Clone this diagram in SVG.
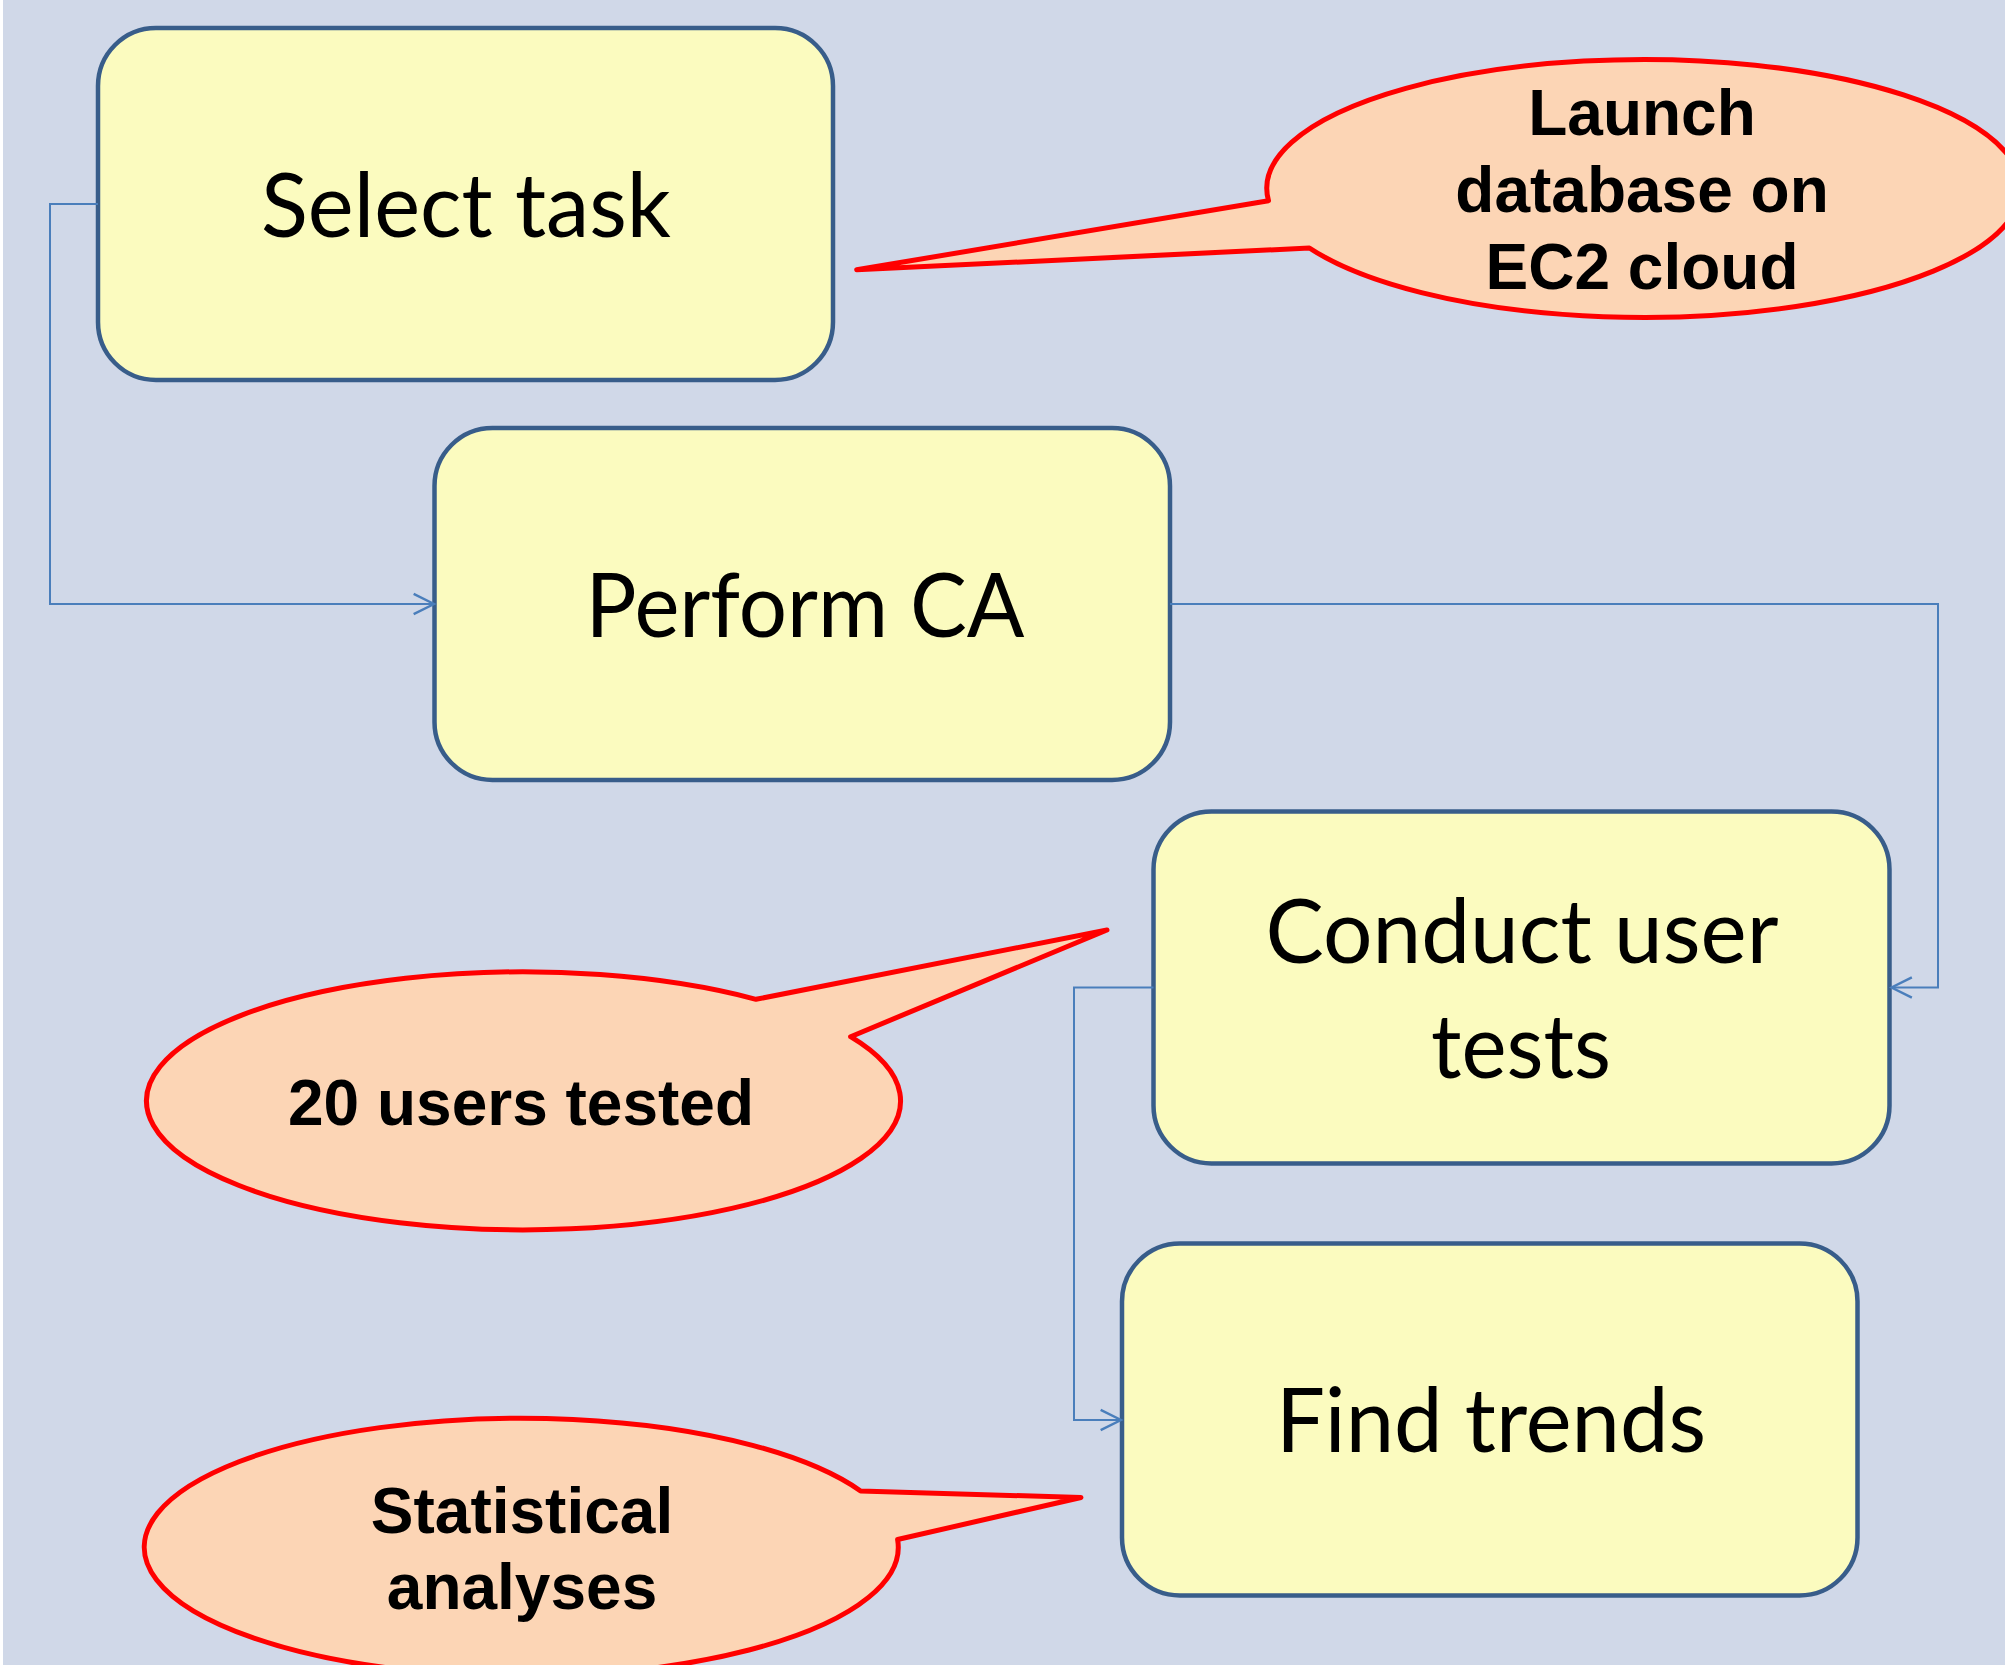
<svg xmlns="http://www.w3.org/2000/svg" width="2005" height="1665" viewBox="0 0 2005 1665">
  <style>
    .node rect { fill: #FBFBBF; stroke: #385D8A; stroke-width: 4.5; }
    .node text { font-family: Lato, "Open Sans", sans-serif; font-size: 89px; fill: #000; text-anchor: middle; }
    .callout path { fill: #FCD5B5; stroke: #FF0000; stroke-width: 5; stroke-linejoin: round; }
    .callout text { font-family: "Liberation Sans", Arial, sans-serif; font-weight: bold; font-size: 64px; fill: #000; text-anchor: middle; }
    .conn path { fill: none; stroke: #4A7EBB; stroke-width: 2; }
  </style>
  <defs>
    <marker id="open-arrow" markerUnits="userSpaceOnUse" markerWidth="30" markerHeight="30" viewBox="-24 -14 28 28" refX="0" refY="0" orient="auto">
      <path d="M -19,-9.5 L 0,0 L -19,9.5" fill="none" stroke="#4A7EBB" stroke-width="2.2"/>
    </marker>
  </defs>

  <!-- page -->
  <rect x="0" y="0" width="2005" height="1665" fill="#FFFFFF"/>
  <rect x="3" y="0" width="2002" height="1665" fill="#D0D8E8"/>

  <!-- process steps -->
  <g id="select-task" class="node">
    <rect x="98" y="28" width="735" height="352" rx="58" ry="58"/>
    <text x="466" y="237" textLength="410" lengthAdjust="spacingAndGlyphs">Select task</text>
  </g>
  <g id="perform-ca" class="node">
    <rect x="434.5" y="428" width="735.5" height="352" rx="58" ry="58"/>
    <text x="805" y="637" textLength="439" lengthAdjust="spacingAndGlyphs">Perform CA</text>
  </g>
  <g id="conduct-user-tests" class="node">
    <rect x="1153.5" y="811.5" width="736" height="352" rx="58" ry="58"/>
    <text x="1522" y="963" textLength="513" lengthAdjust="spacingAndGlyphs">Conduct user</text>
    <text x="1521" y="1078" textLength="180" lengthAdjust="spacingAndGlyphs">tests</text>
  </g>
  <g id="find-trends" class="node">
    <rect x="1122" y="1243.5" width="735.5" height="352" rx="58" ry="58"/>
    <text x="1491" y="1452" textLength="430" lengthAdjust="spacingAndGlyphs">Find trends</text>
  </g>

  <!-- elbow connectors -->
  <g id="connectors" class="conn">
    <path d="M 98,204 H 50 V 604 H 434" marker-end="url(#open-arrow)"/>
    <path d="M 1170,604 H 1938 V 987.5 H 1891.5" marker-end="url(#open-arrow)"/>
    <path d="M 1153.5,987.5 H 1074 V 1420 H 1121" marker-end="url(#open-arrow)"/>
  </g>

  <!-- speech-bubble notes -->
  <g id="note-launch-db" class="callout">
    <path d="M 1268.5,200.7 L 856.7,269.8 L 1309.4,248 A 377 129 0 1 0 1268.5,200.7 Z"/>
    <text x="1642" y="135">Launch</text>
    <text x="1642" y="212">database on</text>
    <text x="1642" y="289">EC2 cloud</text>
  </g>
  <g id="note-users-tested" class="callout">
    <path d="M 756,999.3 L 1107,930 L 850.6,1036.7 A 377 129 0 1 1 756,999.3 Z"/>
    <text x="521" y="1125">20 users tested</text>
  </g>
  <g id="note-statistics" class="callout">
    <path d="M 860.6,1491 L 1081,1497.5 L 897.6,1539.5 A 377 129 0 1 1 860.6,1491 Z"/>
    <text x="522" y="1533">Statistical</text>
    <text x="522" y="1609">analyses</text>
  </g>
</svg>
